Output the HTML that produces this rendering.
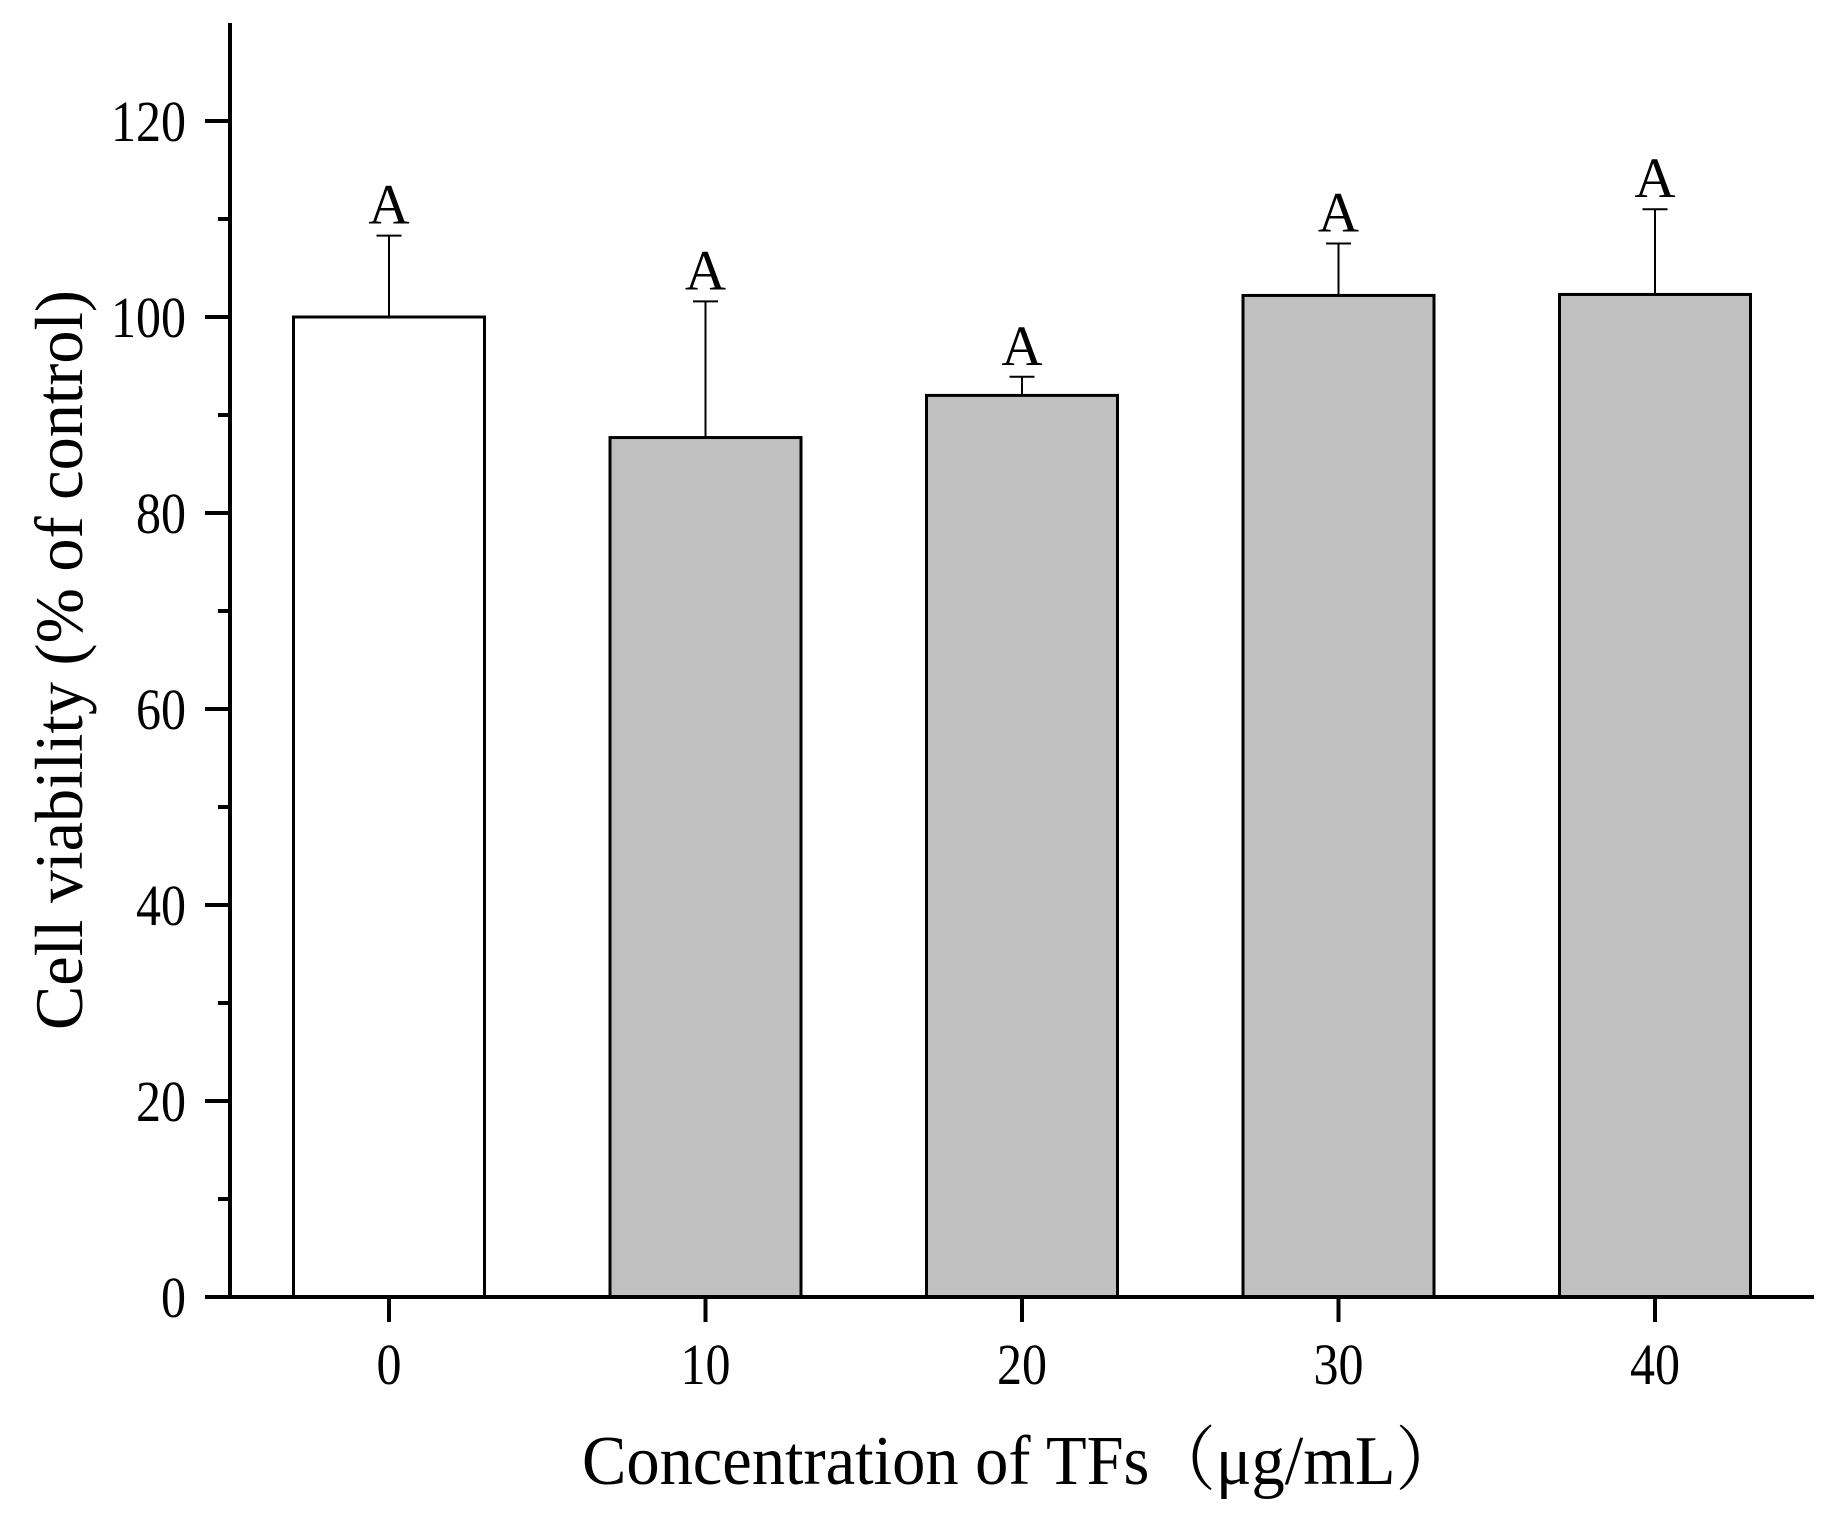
<!DOCTYPE html>
<html><head><meta charset="utf-8"><style>
html,body{margin:0;padding:0;background:#fff;}
svg{display:block;}
text{font-family:"Liberation Serif","Noto Serif CJK SC",serif;fill:#000;}
</style></head><body>
<svg id="chart" width="1833" height="1515" viewBox="0 0 1833 1515" xmlns="http://www.w3.org/2000/svg">
<g id="plot"></g>
<text x="582" y="1484" font-size="70" text-anchor="start" textLength="880" lengthAdjust="spacingAndGlyphs">Concentration of TFs（μg/mL）</text>
<text transform="translate(82,660) rotate(-90)" font-size="68" text-anchor="middle" textLength="740" lengthAdjust="spacingAndGlyphs">Cell viability (% of control)</text>
</svg>
<script>
const categories = ["0","10","20","30","40"];
const values = [100, 87.7, 92.0, 102.2, 102.3];
const errors = [8.3, 13.9, 1.9, 5.3, 8.7];
const letters = ["A","A","A","A","A"];
const yTicks = [0,20,40,60,80,100,120];

const NS = "http://www.w3.org/2000/svg";
const g = document.getElementById('plot');
const x0 = 230, yBase = 1297, yPerUnit = 9.8;
const firstCat = 389, catStep = 316.5, halfW = 95.5;
function yS(v){ return yBase - v*yPerUnit; }
function xS(i){ return firstCat + i*catStep; }
function mk(tag, attrs){ const e=document.createElementNS(NS,tag); for(const k in attrs) e.setAttribute(k,attrs[k]); g.appendChild(e); return e; }

values.forEach((v,i)=>{
  const b = mk('rect',{x:xS(i)-halfW, y:yS(v), width:2*halfW, height:yBase-yS(v), fill:i===0?'#ffffff':'#c0c0c0', stroke:'#000','stroke-width':3});
  
  
  const top = yS(v+errors[i]);
  const w = mk('line',{x1:xS(i), x2:xS(i), y1:yS(v), y2:top, stroke:'#000','stroke-width':2});
  
  
  const c = mk('line',{x1:xS(i)-12.5, x2:xS(i)+12.5, y1:top, y2:top, stroke:'#000','stroke-width':2});
  
  
  const t = mk('text',{x:xS(i), y:top-12, 'font-size':57, 'text-anchor':'middle'});
  t.textContent = letters[i];
  
  
  const tk = mk('line',{x1:xS(i), x2:xS(i), y1:yBase, y2:yBase+25, stroke:'#000','stroke-width':4});
  
  
  const tl = mk('text',{x:xS(i), y:1384, 'font-size':58, 'text-anchor':'middle', textLength:categories[i].length*25, lengthAdjust:'spacingAndGlyphs'});
  tl.textContent = categories[i];
  
  
});

yTicks.forEach(v=>{
  const t = mk('line',{x1:205, x2:x0, y1:yS(v), y2:yS(v), stroke:'#000','stroke-width':4});
  
  
  const s = String(v);
  const l = mk('text',{x:186, y:yS(v)+20, 'font-size':58, 'text-anchor':'end', textLength:s.length*25, lengthAdjust:'spacingAndGlyphs'});
  l.textContent = s;
  
  
  if (v < 120) {
    const m = mk('line',{x1:218, x2:x0, y1:yS(v+10), y2:yS(v+10), stroke:'#000','stroke-width':4});
    
    
  }
});

const ya = mk('line',{x1:x0, x2:x0, y1:23, y2:yBase+2, stroke:'#000','stroke-width':4});


const xa = mk('line',{x1:208, x2:1814, y1:yBase, y2:yBase, stroke:'#000','stroke-width':4});


</script>
</body></html>
